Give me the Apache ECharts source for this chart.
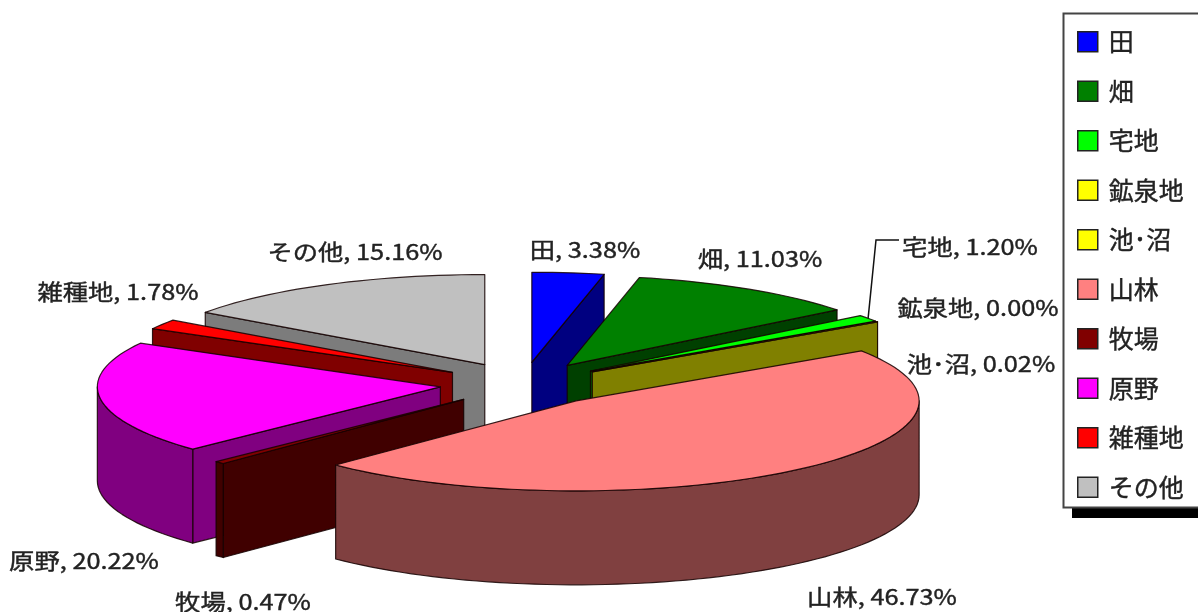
<!DOCTYPE html>
<html><head><meta charset="utf-8">
<style>html,body{margin:0;padding:0;background:#fff}#c{width:1198px;height:612px}</style>
<script src="https://cdn.jsdelivr.net/npm/echarts@6/dist/echarts.min.js"></script>
</head><body><div id="c"></div>
<script>
const categories = ['田','畑','宅地','鉱泉地','池･沼','山林','牧場','原野','雑種地','その他'];
const shares = [3.38,11.03,1.20,0.00,0.02,46.73,0.47,20.22,1.78,15.16];
const topColors = ['#0000ff','#008000','#00ff00','#ffff00','#ffff00','#ff8080','#800000','#ff00ff','#ff0000','#c0c0c0'];
const wallColors = ['#000080','#004000','#008000','#808000','#808000','#804040','#400000','#800080','#800000','#7c7c7c'];
const paintOrder = ['その他','雑種地','原野','牧場','田','畑','宅地','鉱泉地','池･沼','山林'];
const labelAnchors = [[585,250],[760,259],[970,247],[978,308],[981,364],[882,597],[243,602],[84,561],[118,292],[355,252]];

const PIE = {cx:523, cy:384, rx:343, ry:90, wall:94, explode:0.243};
const FONT = '"Noto Sans CJK JP"';
const total = shares.reduce((a,b)=>a+b,0);
const starts = []; shares.reduce((s,v,i)=>{starts[i]=s; return s+v;},0);
const deg = v => v/total*360;
const rad = d => d*Math.PI/180;
const outline = 'rgba(20,0,0,.85)';

function renderSlice(i, api){
  const a = deg(starts[i]), b = a + deg(api.value(0)), mid = (a+b)/2;
  const ax = PIE.cx + PIE.explode*PIE.rx*Math.sin(rad(mid));
  const ay = PIE.cy - PIE.explode*PIE.ry*Math.cos(rad(mid));
  const pt = d => [ax + PIE.rx*Math.sin(rad(d)), ay - PIE.ry*Math.cos(rad(d))];
  const down = p => [p[0], p[1]+PIE.wall];
  const arc = (from,to) => { const r=[]; const n=Math.max(1,Math.ceil((to-from)/2));
    for(let k=0;k<=n;k++) r.push(pt(from+(to-from)*k/n)); return r; };
  const poly = (points,fill) => ({type:'polygon',silent:true,shape:{points},
    style:{fill,stroke:outline,lineWidth:1.2,lineJoin:'round'}});
  const kids = [], apex=[ax,ay];
  if (Math.sin(rad(a)) < -1e-6) { const p=pt(a); kids.push(poly([apex,p,down(p),down(apex)],wallColors[i])); }
  if (Math.sin(rad(b)) > 1e-6)  { const p=pt(b); kids.push(poly([apex,p,down(p),down(apex)],wallColors[i])); }
  const f=Math.max(a,90), t=Math.min(b,270);
  if (t>f) { const s=arc(f,t); kids.push(poly(s.concat(s.map(down).reverse()),wallColors[i])); }
  kids.push(poly([apex].concat(arc(a,b)),topColors[i]));
  const [lx,ly] = labelAnchors[i];
  if (categories[i]==='宅地') {
    kids.push({type:'polyline',silent:true,shape:{points:[[lx-71,ly-7],[lx-94,ly-7],pt(mid)]},
      style:{stroke:'#111',lineWidth:1.5,fill:null}});
  }
  kids.push({type:'text',silent:true,x:lx,y:ly,scaleX:1.15,style:{
    text:categories[i]+', '+api.value(0).toFixed(2)+'%',
    font:'22px '+FONT,fill:'#222',stroke:'#222',lineWidth:0.4,align:'center',verticalAlign:'middle'}});
  return {type:'group',children:kids};
}

const series = categories.map((name,i)=>({
  type:'custom', name, coordinateSystem:'none',
  z: 2 + paintOrder.indexOf(name),
  itemStyle:{color:topColors[i]},
  data:[[shares[i]]],
  renderItem:(p,api)=>renderSlice(i,api)
}));

const chart = echarts.init(document.getElementById('c'),null,{renderer:'canvas'});
chart.setOption({
  animation:false,
  backgroundColor:'#fff',
  graphic:[
    {type:'rect',z:-2,silent:true,shape:{x:1072,y:22,width:140,height:496},style:{fill:'#000'}},
    {type:'rect',z:-1,silent:true,shape:{x:1063.5,y:13.5,width:150,height:494},style:{fill:'#fff',stroke:'#444',lineWidth:2}}
  ],
  legend:{
    orient:'vertical',left:1072,top:24,selectedMode:false,
    itemWidth:20,itemHeight:20,itemGap:24.1,
    icon:'rect',
    itemStyle:{borderColor:'#222',borderWidth:1.5},
    textStyle:{fontFamily:FONT,fontSize:25,lineHeight:23,color:'#222',padding:[0,0,0,6],textBorderColor:'#222',textBorderWidth:0.4},
    data:categories
  },
  series
});
</script></body></html>
